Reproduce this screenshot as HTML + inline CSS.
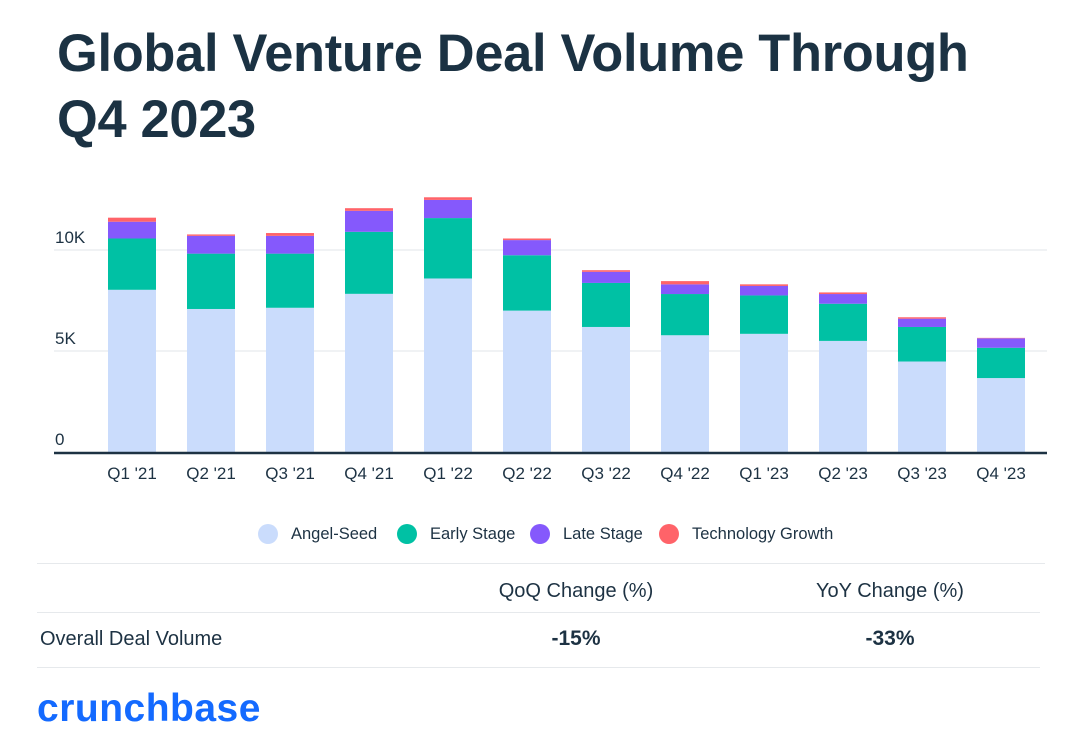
<!DOCTYPE html>
<html><head><meta charset="utf-8">
<style>
body{margin:0;width:1083px;height:750px;background:#fff;font-family:"Liberation Sans",sans-serif;color:#1d3243;position:relative;overflow:hidden}
.abs{position:absolute}
#title{left:57px;top:21px;font-size:52.4px;font-weight:bold;line-height:66px;letter-spacing:-0.3px;color:#1b3243;margin:0}
.leg{top:524px;font-size:16.5px;display:flex;align-items:center}
.leg span.d{display:inline-block;width:20px;height:20px;border-radius:50%;margin-right:13px}
.hl{height:1px;background:#e6e9ec}
.th{top:580px;font-size:20px;width:300px;text-align:center}
.bv{top:627px;font-size:21px;font-weight:bold;width:300px;text-align:center}
</style></head><body>
<h1 id="title" class="abs">Global Venture Deal Volume Through<br>Q4 2023</h1>
<svg id="chart" class="abs" style="left:0;top:0" width="1083" height="500"></svg>
<div class="abs leg" style="left:258px"><span class="d" style="background:#cadcfc"></span>Angel-Seed</div>
<div class="abs leg" style="left:397px"><span class="d" style="background:#00c1a4"></span>Early Stage</div>
<div class="abs leg" style="left:530px"><span class="d" style="background:#8559fc"></span>Late Stage</div>
<div class="abs leg" style="left:659px"><span class="d" style="background:#ff6369"></span>Technology Growth</div>
<div class="abs hl" style="left:37px;top:563px;width:1008px"></div>
<div class="abs th" style="left:426px">QoQ Change (%)</div>
<div class="abs th" style="left:740px">YoY Change (%)</div>
<div class="abs hl" style="left:37px;top:612px;width:1003px"></div>
<div class="abs" style="left:40px;top:628px;font-size:20px">Overall Deal Volume</div>
<div class="abs bv" style="left:426px">-15%</div>
<div class="abs bv" style="left:740px">-33%</div>
<div class="abs hl" style="left:37px;top:667px;width:1003px"></div>
<div class="abs" style="left:37px;top:687px;font-size:39px;font-weight:bold;color:#146aff;letter-spacing:0.5px">crunchbase</div>
<script>
const categories=["Q1 '21","Q2 '21","Q3 '21","Q4 '21","Q1 '22","Q2 '22","Q3 '22","Q4 '22","Q1 '23","Q2 '23","Q3 '23","Q4 '23"];
const angelSeed=[8030,7080,7140,7830,8590,7000,6190,5780,5850,5500,4480,3660];
const earlyStage=[2540,2740,2680,3070,2990,2740,2180,2040,1900,1840,1710,1500];
const lateStage=[830,880,880,1040,900,750,550,480,470,480,410,470];
const techGrowth=[200,70,140,130,130,80,80,160,80,80,70,20];
const yTicks=[0,5000,10000];
const yTickLabels=["0","5K","10K"];
const svg=document.getElementById('chart');
const NS='http://www.w3.org/2000/svg';
const y0=452,pxPer=101/5000;
const yScale=v=>y0-v*pxPer;
const xScale=i=>108+i*79;
const bw=48;
function mk(t,a){const e=document.createElementNS(NS,t);for(const k in a)e.setAttribute(k,a[k]);svg.appendChild(e);return e;}
yTicks.forEach((t,i)=>{
 if(t>0){const g=mk('line',{x1:54,x2:1047,y1:yScale(t),y2:yScale(t),stroke:'#eceef0','stroke-width':1.5});
 
 }
 const l=mk('text',{x:55,y:yScale(t)-7,'font-size':17,fill:'#1d3243','font-family':'Liberation Sans'});
 l.textContent=yTickLabels[i];
 
 
});
const series=[[angelSeed,'#cadcfc','angel-seed'],[earlyStage,'#00c1a4','early-stage'],[lateStage,'#8559fc','late-stage'],[techGrowth,'#ff6369','technology-growth']];
categories.forEach((c,i)=>{
 let cum=0;
 series.forEach(s=>{
  const v=s[0][i];
  const r=mk('rect',{x:xScale(i),y:yScale(cum+v),width:bw,height:v*pxPer,fill:s[1]});
  
  
  cum+=v;
 });
 const t=mk('text',{x:xScale(i)+bw/2,y:479,'font-size':17,fill:'#1d3243','text-anchor':'middle','font-family':'Liberation Sans'});
 t.textContent=c;
 
 
});
const ax=mk('line',{x1:54,x2:1047,y1:y0+1,y2:y0+1,stroke:'#1d3243','stroke-width':2.5});


</script>
</body></html>
